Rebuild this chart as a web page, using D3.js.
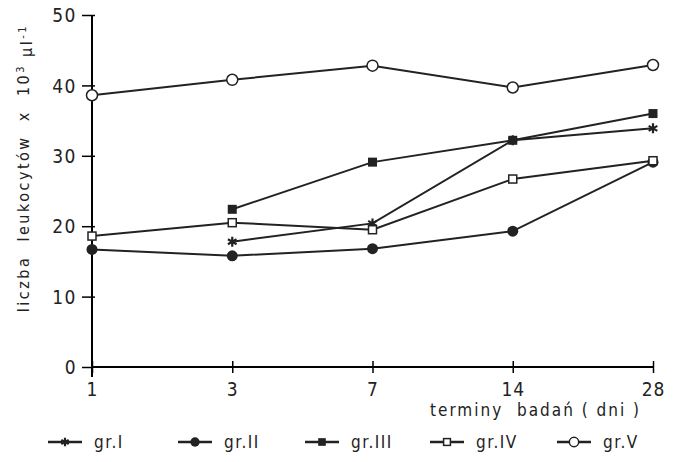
<!DOCTYPE html>
<html>
<head>
<meta charset="utf-8">
<script src="https://cdn.jsdelivr.net/npm/d3@7"></script>
<style>
  body { margin: 0; background: #fff; }
  text { font-family: "DejaVu Sans Condensed", "DejaVu Sans", sans-serif; fill: #222; white-space: pre; }
</style>
</head>
<body>
<div id="chart"></div>
<script>
// days of examination
var days = ["1", "3", "7", "14", "28"];
var yTicks = [0, 10, 20, 30, 40, 50];

// leukocyte counts per group (null = no measurement)
var grI   = [null, 17.8, 20.4, 32.2, 33.9];
var grII  = [16.7, 15.8, 16.8, 19.3, 29.1];
var grIII = [null, 22.4, 29.1, 32.2, 36.0];
var grIV  = [18.6, 20.5, 19.5, 26.7, 29.3];
var grV   = [38.6, 40.8, 42.8, 39.7, 42.9];

var groupNames = ["gr.I", "gr.II", "gr.III", "gr.IV", "gr.V"];
var groupMarks = ["asterisk", "dot", "square", "openSquare", "openCircle"];

var width = 675, height = 462;

var svg = d3.select("#chart")
    .append("svg")
    .attr("width", width)
    .attr("height", height);

var x = d3.scalePoint().domain(days).range([92, 653]);
var y = d3.scaleLinear().domain([0, 50]).range([367, 15]);

// y axis
var yAxis = svg.append("g")
    .attr("transform", "translate(92,0)")
    .call(d3.axisLeft(y).tickValues(yTicks).tickSize(10).tickPadding(5));
yAxis.select(".domain").attr("d", "M0," + y(50) + "V" + (y(0) + 10)).attr("stroke-width", 2);
yAxis.selectAll(".tick line").attr("x2", 0).attr("x1", -10).attr("stroke-width", 1.5);
yAxis.selectAll(".tick").filter(function (d) { return d > 0; })
    .select("line").attr("x2", 3);
yAxis.selectAll(".tick text").style("font-size", "19px").attr("letter-spacing", "1.5px").attr("dy", "0.35em");

// x axis
var xAxis = svg.append("g")
    .attr("transform", "translate(0," + y(0) + ")")
    .call(d3.axisBottom(x).tickSize(6).tickPadding(10));
xAxis.select(".domain").attr("d", "M92,0H" + x("28")).attr("stroke-width", 2);
xAxis.selectAll(".tick line").attr("y1", -6).attr("stroke-width", 1.5);
xAxis.selectAll(".tick text").style("font-size", "19px").attr("letter-spacing", "1px");

svg.append("text")
    .attr("x", 641)
    .attr("y", 416)
    .attr("text-anchor", "end")
    .attr("letter-spacing", "2px")
    .style("font-size", "17px")
    .text("terminy  badań ( dni )");

// y axis title
var yTitle = svg.append("text")
    .attr("transform", "translate(29,168) rotate(-90)")
    .attr("text-anchor", "middle")
    .attr("letter-spacing", "2.5px")
    .style("font-size", "16px");
yTitle.append("tspan").text("liczba  leukocytów  x  10");
yTitle.append("tspan").attr("dy", "-0.5em").style("font-size", "11px").text("3");
yTitle.append("tspan").attr("dy", "0.5em").text(" µl");
yTitle.append("tspan").attr("dy", "-0.5em").style("font-size", "11px").text("-1");

function drawMark(g, kind, s) {
    if (kind === "asterisk") {
        g.append("path")
            .attr("d", d3.symbol().type(d3.symbolAsterisk).size(70 * s * s)())
            .attr("fill", "none").attr("stroke", "#222").attr("stroke-width", 2.2);
    } else if (kind === "dot") {
        g.append("circle").attr("r", 5.5 * s).attr("fill", "#222");
    } else if (kind === "square") {
        g.append("rect").attr("x", -4.5 * s).attr("y", -4.5 * s).attr("width", 9 * s).attr("height", 9 * s).attr("fill", "#222");
    } else if (kind === "openSquare") {
        g.append("rect").attr("x", -4 * s).attr("y", -4 * s).attr("width", 8 * s).attr("height", 8 * s)
            .attr("fill", "#fff").attr("stroke", "#222").attr("stroke-width", 1.5);
    } else {
        g.append("circle").attr("r", 5.5 * s).attr("fill", "#fff").attr("stroke", "#222").attr("stroke-width", 1.5);
    }
}

var series = [grI, grII, grIII, grIV, grV];

var line = d3.line()
    .defined(function (d) { return d.v !== null; })
    .x(function (d) { return x(d.day); })
    .y(function (d) { return y(d.v); });

series.forEach(function (vals, i) {
    var pts = vals.map(function (v, j) { return { day: days[j], v: v }; });
    svg.append("path")
        .datum(pts)
        .attr("d", line)
        .attr("fill", "none")
        .attr("stroke", "#222")
        .attr("stroke-width", 2);
});

series.forEach(function (vals, i) {
    vals.forEach(function (v, j) {
        if (v === null) return;
        var g = svg.append("g").attr("transform", "translate(" + x(days[j]) + "," + y(v) + ")");
        drawMark(g, groupMarks[i], 1);
    });
});

// legend
var legendX = [48, 178, 305, 430, 557];
groupNames.forEach(function (name, i) {
    var g = svg.append("g").attr("transform", "translate(" + legendX[i] + ",442)");
    g.append("line").attr("x1", 0).attr("x2", 34).attr("stroke", "#222").attr("stroke-width", 2.5);
    var m = g.append("g").attr("transform", "translate(17,0)");
    drawMark(m, groupMarks[i], 0.85);
    g.append("text")
        .attr("x", 46)
        .attr("dy", "0.35em")
        .attr("letter-spacing", "1.5px")
        .style("font-size", "17px")
        .text(name);
});
</script>
</body>
</html>
